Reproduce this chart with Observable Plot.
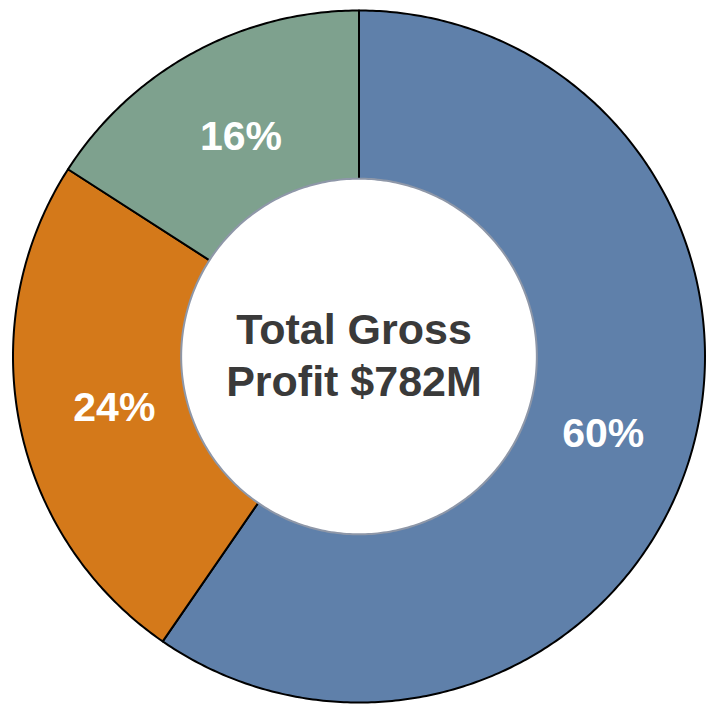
<!DOCTYPE html>
<html>
<head>
<meta charset="utf-8">
<script src="https://cdn.jsdelivr.net/npm/d3@7"></script>
<script src="https://cdn.jsdelivr.net/npm/@observablehq/plot@0.6"></script>
<style>
  html, body { margin: 0; padding: 0; background: #ffffff; }
  #chart svg { display: block; }
</style>
</head>
<body>
<div id="chart"></div>
<script>
// ---- data ----
const categories = ["Segment A", "Segment B", "Segment C"];
const values = [59.6, 24.5, 15.9];
const pctLabels = ["60%", "24%", "16%"];
const sliceColors = ["#5f80aa", "#d4791a", "#7ea18e"];
const centerLines = ["Total Gross", "Profit $782M"];

// ---- geometry (normalized units; radius 1 = outer edge) ----
const innerR = 0.514;
const labelR = 0.73;
const total = d3.sum(values);
let acc = 0;
const slices = categories.map((c, i) => {
  const a0 = (acc / total) * 2 * Math.PI;
  acc += values[i];
  const a1 = (acc / total) * 2 * Math.PI;
  return { c, a0, a1, label: pctLabels[i], mid: (a0 + a1) / 2 };
});

const wedgePts = [];
for (const s of slices) {
  wedgePts.push({ c: s.c, x: 0, y: 0 });
  const n = Math.max(8, Math.ceil((s.a1 - s.a0) / 0.01));
  for (let k = 0; k <= n; k++) {
    const t = s.a0 + (s.a1 - s.a0) * k / n;
    wedgePts.push({ c: s.c, x: Math.sin(t), y: Math.cos(t) });
  }
}
const holePts = d3.range(0, 361).map(d => {
  const t = d * Math.PI / 180;
  return { x: innerR * Math.sin(t), y: innerR * Math.cos(t) };
});
const labelPts = slices.map(s => ({ label: s.label, x: labelR * Math.sin(s.mid), y: labelR * Math.cos(s.mid) }));

const cx = 358.5, cy = 356, R = 346;
const font = "'Liberation Sans', Arial, Helvetica, sans-serif";

const chart = Plot.plot({
  width: 712,
  height: 712,
  margin: 0,
  x: { domain: [-1, 1], range: [cx - R, cx + R], axis: null },
  y: { domain: [-1, 1], range: [cy + R, cy - R], axis: null },
  color: { domain: categories, range: sliceColors },
  style: { background: "#ffffff", fontFamily: font },
  marks: [
    Plot.line(wedgePts, {
      x: "x", y: "y", z: "c", fill: "c",
      stroke: "#000000", strokeWidth: 2, strokeLinejoin: "round",
      curve: "linear-closed"
    }),
    Plot.line(holePts, {
      x: "x", y: "y", fill: "#ffffff",
      stroke: "#8e97a8", strokeWidth: 2, curve: "linear-closed"
    }),
    Plot.text(labelPts, {
      x: "x", y: "y", text: "label", dx: 3, dy: 2,
      fill: "#ffffff", fontSize: 41, fontWeight: "bold", fontFamily: font
    }),
    Plot.text([centerLines.join("\n")], {
      x: () => 0, y: () => 0, text: d => d, dx: -5, dy: -3,
      fill: "#3a3a3a", fontSize: 43, fontWeight: "bold", fontFamily: font,
      lineHeight: 1.2
    })
  ]
});
document.getElementById("chart").appendChild(chart);
</script>
</body>
</html>
